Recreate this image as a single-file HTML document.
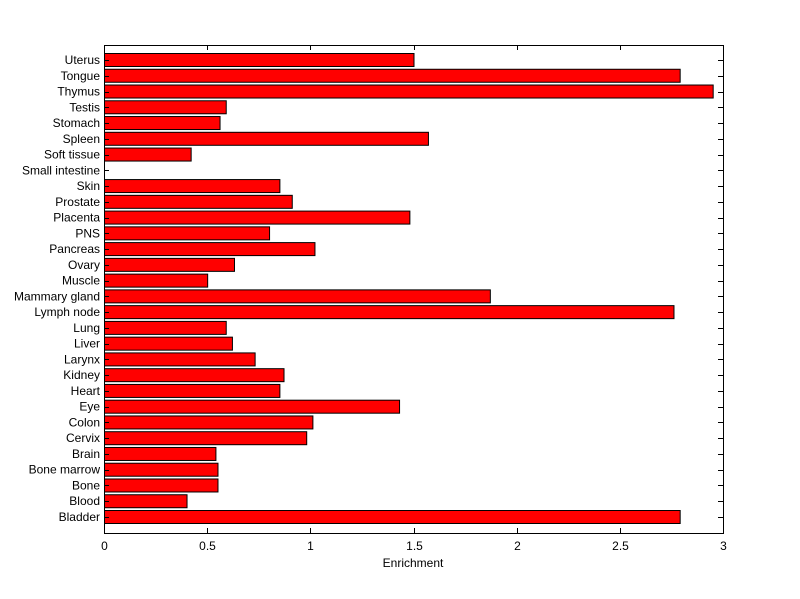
<!DOCTYPE html>
<html><head><meta charset="utf-8"><style>
body{margin:0;background:#fff;}
svg{display:block;font-family:"Liberation Sans",sans-serif;font-size:12px;}
</style></head><body>
<svg id="chart" width="800" height="599"></svg>
<script>
const categories=["Bladder","Blood","Bone","Bone marrow","Brain","Cervix","Colon","Eye","Heart","Kidney","Larynx","Liver","Lung","Lymph node","Mammary gland","Muscle","Ovary","Pancreas","PNS","Placenta","Prostate","Skin","Small intestine","Soft tissue","Spleen","Stomach","Testis","Thymus","Tongue","Uterus"];
const values=[2.79,0.40,0.55,0.55,0.54,0.98,1.01,1.43,0.85,0.87,0.73,0.62,0.59,2.76,1.87,0.50,0.63,1.02,0.80,1.48,0.91,0.85,0,0.42,1.57,0.56,0.59,2.95,2.79,1.50];
const xTicks=[0,0.5,1,1.5,2,2.5,3];
const xTickLabels=["0","0.5","1","1.5","2","2.5","3"];
const NS="http://www.w3.org/2000/svg";
const svg=document.getElementById('chart');
const L=104,R=723,T=45,B=533;
const xs=v=>L+(v-0)/(3-0)*(R-L);
const step=(517-60)/(categories.length-1);
const ys=i=>517-i*step;
function mk(t,a,p){const e=document.createElementNS(NS,t);for(const k in a)e.setAttribute(k,a[k]);(p||svg).appendChild(e);return e;}
const frame=mk('rect',{x:L+0.5,y:T+0.5,width:R-L,height:B-T,fill:'#fff',stroke:'#000'});


categories.forEach((c,i)=>{
  const y=ys(i);
  const b=mk('rect',{x:L+0.5,y:y-6.5,width:Math.max(0,xs(values[i])-L),height:13,fill:values[i]>0?'#ff0000':'none',stroke:values[i]>0?'#000':'none'});
  
  
  const t=mk('text',{x:L-4,y:y+4,'text-anchor':'end'});t.textContent=c;
  
  
  mk('line',{x1:L,x2:L+5,y1:Math.round(y)+0.5,y2:Math.round(y)+0.5,stroke:'#000'});
  mk('line',{x1:R-5,x2:R,y1:Math.round(y)+0.5,y2:Math.round(y)+0.5,stroke:'#000'});
});
xTicks.forEach((v,i)=>{
  const x=Math.round(xs(v))+0.5;
  mk('line',{x1:x,x2:x,y1:B,y2:B-5,stroke:'#000'});
  mk('line',{x1:x,x2:x,y1:T,y2:T+5,stroke:'#000'});
  const t=mk('text',{x:x,y:B+17,'text-anchor':'middle'});t.textContent=xTickLabels[i];
  
  
});
const xl=mk('text',{x:413,y:567,'text-anchor':'middle'});xl.textContent='Enrichment';


</script>
</body></html>
